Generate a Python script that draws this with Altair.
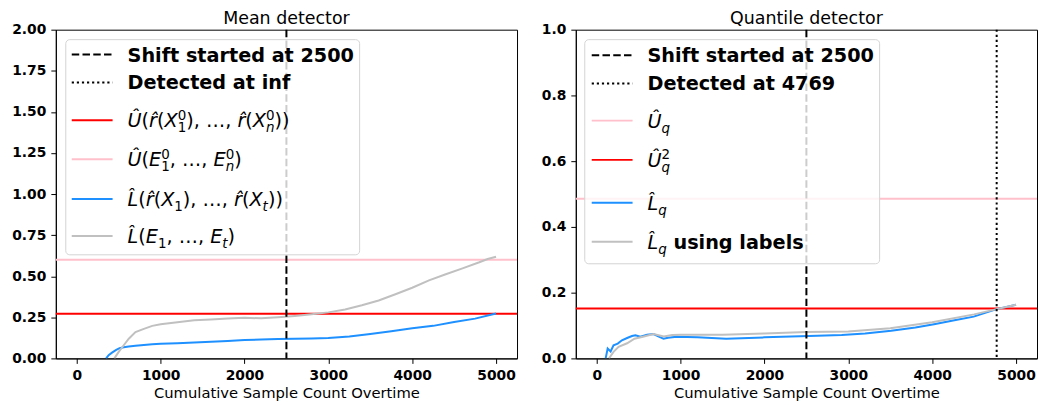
import altair as alt
import pandas as pd

# ---------------- data ----------------
# Mean detector
mean_blue_x = [350, 380, 420, 470, 510, 560, 620, 700, 800, 900, 1000, 1200, 1400, 1600, 1800,
               2000, 2200, 2400, 2600, 2800, 3000, 3250, 3500, 3750, 4000, 4250, 4500, 4750, 5000]
mean_blue_y = [0.0, 0.02, 0.035, 0.052, 0.062, 0.068, 0.072, 0.077, 0.082, 0.086, 0.089, 0.092, 0.097,
               0.101, 0.106, 0.112, 0.115, 0.118, 0.12, 0.121, 0.124, 0.133, 0.148, 0.165, 0.183,
               0.198, 0.222, 0.242, 0.273]
mean_gray_x = [448, 500, 560, 620, 700, 800, 900, 1000, 1200, 1400, 1600, 1800, 2000, 2200, 2400,
               2600, 2800, 3000, 3200, 3400, 3600, 3800, 4000, 4200, 4400, 4600, 4800, 4900, 5000]
mean_gray_y = [0.0, 0.04, 0.08, 0.12, 0.16, 0.18, 0.198, 0.208, 0.22, 0.232, 0.237, 0.243, 0.247,
               0.244, 0.25, 0.258, 0.268, 0.28, 0.298, 0.323, 0.352, 0.39, 0.43, 0.475, 0.512,
               0.548, 0.585, 0.605, 0.618]
mean_U_red = 0.272
mean_U_pink = 0.60

# Quantile detector
quant_blue_x = [106, 130, 165, 200, 250, 300, 362, 420, 461, 520, 600, 677, 740, 796, 850, 953,
                1200, 1543, 2000, 2530, 2921, 3200, 3511, 3800, 4022, 4250, 4495, 4770, 5000]
quant_blue_y = [0.0, 0.03, 0.021, 0.04, 0.045, 0.055, 0.062, 0.068, 0.07, 0.066, 0.072, 0.074,
                0.066, 0.06, 0.063, 0.066, 0.064, 0.06, 0.064, 0.068, 0.071, 0.076, 0.084, 0.094,
                0.104, 0.115, 0.127, 0.15, 0.163]
quant_gray_x = [146, 200, 260, 362, 450, 550, 677, 800, 900, 1000, 1500, 2000, 2500, 3000, 3500,
                4000, 4500, 4770, 5000]
quant_gray_y = [0.0, 0.02, 0.035, 0.046, 0.06, 0.066, 0.074, 0.067, 0.071, 0.072, 0.072, 0.076,
                0.08, 0.082, 0.092, 0.11, 0.134, 0.15, 0.163]
quant_U_pink = 0.486
quant_U2_red = 0.152

shift_at = 2500
detected_quant = 4769

x_ticks = [0, 1000, 2000, 3000, 4000, 5000]
mean_y_ticks = [0, 0.25, 0.5, 0.75, 1.0, 1.25, 1.5, 1.75, 2.0]
quant_y_ticks = [0, 0.2, 0.4, 0.6, 0.8, 1.0]

titles = ["Mean detector", "Quantile detector"]
x_title = "Cumulative Sample Count Overtime"

# legend labels: (line style, colour, [(text, kind), ...])
mean_legend = [
    ("dash", "black", [("Shift started at 2500", "b")]),
    ("dot", "black", [("Detected at inf", "b")]),
    ("solid", "#ff0000", [("Û", "i"), ("(", "u"), ("r\u0302", "i"), ("(", "u"), ("X", "i"), ("0", "sup"),
                          ("1", "sub_u"), ("), …, ", "u"), ("r\u0302", "i"), ("(", "u"), ("X", "i"),
                          ("0", "sup"), ("n", "sub_i"), ("))", "u")]),
    ("solid", "#ffc0cb", [("Û", "i"), ("(", "u"), ("E", "i"), ("0", "sup"), ("1", "sub_u"),
                          (", …, ", "u"), ("E", "i"), ("0", "sup"), ("n", "sub_i"), (")", "u")]),
    ("solid", "#1e90ff", [("L\u0302", "i"), ("(", "u"), ("r\u0302", "i"), ("(", "u"), ("X", "i"),
                          ("1", "sub_u"), ("), …, ", "u"), ("r\u0302", "i"), ("(", "u"), ("X", "i"),
                          ("t", "sub_i"), ("))", "u")]),
    ("solid", "#c0c0c0", [("L\u0302", "i"), ("(", "u"), ("E", "i"), ("1", "sub_u"), (", …, ", "u"),
                          ("E", "i"), ("t", "sub_i"), (")", "u")]),
]
quant_legend = [
    ("dash", "black", [("Shift started at 2500", "b")]),
    ("dot", "black", [("Detected at 4769", "b")]),
    ("solid", "#ffc0cb", [("Û", "i"), ("q", "sub_i")]),
    ("solid", "#ff0000", [("Û", "i"), ("2", "sup"), ("q", "sub_i")]),
    ("solid", "#1e90ff", [("L\u0302", "i"), ("q", "sub_i")]),
    ("solid", "#c0c0c0", [("L\u0302", "i"), ("q", "sub_i"), (" using labels", "b")]),
]

# ---------------- layout / style ----------------
PW, PH = 463, 330
FS = 19.3
SMALL = FS * 0.7
DASH = [7.5, 3.3]
DOT = [2.2, 2.9]
TITLE_Y = -6
TITLE_FS = 17.5

mean_rows = [25, 53, 91, 130, 170, 207]
quant_rows = [25.7, 54, 91.3, 130.7, 173.7, 213]
mean_box = (10, 305, 10, 226)
quant_box = (9, 305, 10, 235)

W = {"U": 0.732, "Û": 0.732, "(": 0.390, ")": 0.390, "r": 0.411, "X": 0.685, ",": 0.318,
     " ": 0.318, "…": 1.0, "E": 0.632, "n": 0.634, "L": 0.557, "t": 0.392, "q": 0.635,
     "0": 0.636, "1": 0.636, "2": 0.636, "\u0302": 0.0}
BW = {" ": 0.348, "u": 0.712, "s": 0.595, "i": 0.343, "n": 0.712, "g": 0.716, "l": 0.343,
      "a": 0.675, "b": 0.716, "e": 0.678}
STYLE = {"b": (FS, "bold", "normal"), "i": (FS, "normal", "italic"), "u": (FS, "normal", "normal"),
         "sup": (SMALL, "normal", "normal"), "sub_u": (SMALL, "normal", "normal"),
         "sub_i": (SMALL, "normal", "italic")}
DY = {"sup": -7.5, "sub_u": 5.0, "sub_i": 5.0}
ONE = pd.DataFrame({"a": [0]})


def seg_width(text, kind):
    size = STYLE[kind][0]
    table = BW if kind == "b" else W
    return sum(table.get(ch, 0.6) for ch in text) * size


def legend_frames(items, rows):
    handles, segs = [], []
    for (dash, color, parts), ry in zip(items, rows):
        handles.append(dict(x1=16, x2=57, y=ry, color=color, dash=dash))
        cx = 72.0
        for text, kind in parts:
            if text.startswith(" "):
                cx += seg_width(" ", kind)
                text = text[1:]
            segs.append(dict(px=cx, py=ry + 7 + DY.get(kind, 0.0), text=text, kind=kind))
            if kind != "sup":
                cx += seg_width(text, kind)
    return pd.DataFrame(handles), pd.DataFrame(segs)


def legend_layers(items, rows, box):
    hdf, sdf = legend_frames(items, rows)
    layers = [
        alt.Chart(ONE).mark_rect(fill="white", fillOpacity=0.8, stroke="#d4d4d4", strokeWidth=1,
                                 cornerRadius=4).encode(
            x=alt.value(box[0]), x2=alt.value(box[1]), y=alt.value(box[2]), y2=alt.value(box[3]))
    ]
    px = alt.X("x1:Q", scale=None, axis=None)
    py = alt.Y("y:Q", scale=None, axis=None)
    for dash, sd in (("dash", DASH), ("dot", DOT), ("solid", None)):
        kw = dict(strokeWidth=2)
        if sd:
            kw["strokeDash"] = sd
        layers.append(
            alt.Chart(hdf).transform_filter(alt.datum.dash == dash).mark_rule(**kw).encode(
                x=px, x2="x2:Q", y=py, color=alt.Color("color:N", scale=None)))
    groups = {}
    for k, st in STYLE.items():
        groups.setdefault(st, []).append(k)
    for (size, weight, style), kinds in groups.items():
        layers.append(
            alt.Chart(sdf).transform_filter(alt.FieldOneOfPredicate(field="kind", oneOf=kinds))
            .mark_text(align="left", baseline="alphabetic", font="DejaVu Sans", fontSize=size,
                       fontWeight=weight, fontStyle=style, color="black")
            .encode(x=alt.X("px:Q", scale=None, axis=None), y=alt.Y("py:Q", scale=None, axis=None),
                    text="text:N"))
    return layers


def panel(title, curves, hlines, vlines, y_dom, y_ticks, y_fmt, legend, rows, box):
    xs = alt.Scale(domain=[-250, 5250], nice=False, zero=False)
    ys = alt.Scale(domain=y_dom, nice=False)
    xax = alt.Axis(values=x_ticks, title=x_title, format="d")
    yax = alt.Axis(values=y_ticks, format=y_fmt, title=None)
    layers = []
    for val, col in hlines:
        layers.append(alt.Chart(pd.DataFrame({"y": [val]})).mark_rule(color=col, strokeWidth=2)
                      .encode(y=alt.Y("y:Q", scale=ys, axis=yax)))
    for xv, yv, col in curves:
        df = pd.DataFrame({"x": xv, "y": yv})
        layers.append(alt.Chart(df).mark_line(color=col, strokeWidth=2, clip=True).encode(
            x=alt.X("x:Q", scale=xs, axis=xax), y=alt.Y("y:Q", scale=ys, axis=yax)))
    for val, sd in vlines:
        layers.append(alt.Chart(pd.DataFrame({"x": [val]})).mark_rule(
            color="black", strokeWidth=2, strokeDash=sd).encode(x=alt.X("x:Q", scale=xs, axis=xax)))
    layers += legend_layers(legend, rows, box)
    layers.append(alt.Chart(ONE).mark_text(
        text=title, align="center", baseline="alphabetic", font="DejaVu Sans", fontSize=TITLE_FS,
        color="black").encode(x=alt.value(PW / 2), y=alt.value(TITLE_Y)))
    return alt.layer(*layers).properties(width=PW, height=PH)


left = panel(titles[0],
             [(mean_blue_x, mean_blue_y, "#1e90ff"), (mean_gray_x, mean_gray_y, "#c0c0c0")],
             [(mean_U_red, "#ff0000"), (mean_U_pink, "#ffc0cb")],
             [(shift_at, DASH)],
             [0, 2], mean_y_ticks, ".2f", mean_legend, mean_rows, mean_box)
right = panel(titles[1],
              [(quant_blue_x, quant_blue_y, "#1e90ff"), (quant_gray_x, quant_gray_y, "#c0c0c0")],
              [(quant_U_pink, "#ffc0cb"), (quant_U2_red, "#ff0000")],
              [(shift_at, DASH), (detected_quant, DOT)],
              [0, 1], quant_y_ticks, ".1f", quant_legend, quant_rows, quant_box)

chart = (alt.hconcat(left, right, spacing=21)
         .properties(padding={"left": 3, "top": 0, "right": 0, "bottom": 0})
         .configure_view(stroke="black", strokeWidth=1)
         .configure_axis(labelFont="DejaVu Sans", labelFontWeight="bold", labelFontSize=13.9,
                         labelColor="black", tickColor="black", domainColor="black", tickSize=5,
                         labelPadding=5, grid=False, titleFont="DejaVu Sans", titleFontSize=14.8,
                         titleFontWeight="normal", titleColor="black", titlePadding=3))

chart.save("out.html", embed_options={"renderer": "svg", "actions": False})
